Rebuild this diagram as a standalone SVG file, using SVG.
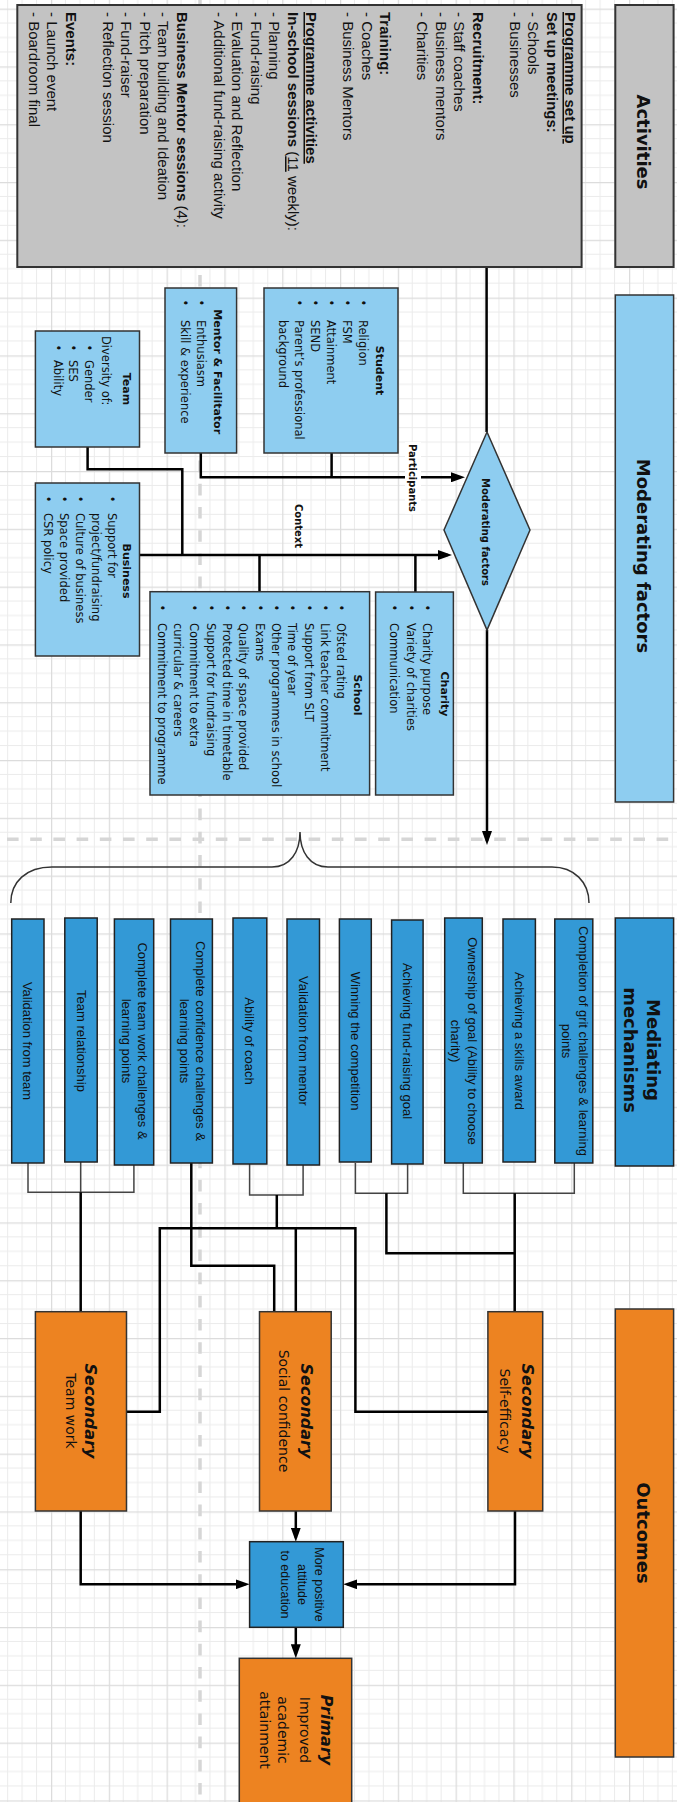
<svg xmlns="http://www.w3.org/2000/svg" width="677" height="1802" viewBox="0 0 677 1802">
<defs>
<pattern id="grid" width="57.8" height="57.8" patternUnits="userSpaceOnUse" x="-6.8" y="8.6">
<path d="M14.45 0V57.8M28.9 0V57.8M43.35 0V57.8M0 14.45H57.8M0 28.9H57.8M0 43.35H57.8" stroke="#ebebeb" stroke-width="1" fill="none"/>
<path d="M0.6 0V57.8M0 0.6H57.8" stroke="#dcdcdc" stroke-width="1.3" fill="none"/>
</pattern>
<marker id="ah" markerUnits="userSpaceOnUse" markerWidth="15" markerHeight="10" refX="10" refY="5" orient="auto"><path d="M0 0L14 5L0 10z" fill="#000"/></marker>
<style>
.act{font-family:"Liberation Sans",Arial,sans-serif;font-size:15px;fill:#111}
.b{font-weight:bold}
.u{text-decoration:underline}
.hdr{font-family:"DejaVu Sans",Verdana,sans-serif;font-weight:bold;font-size:18px;fill:#111}
.mt{font-family:"DejaVu Sans",Verdana,sans-serif;font-size:11.5px;fill:#111}
.mtb{font-family:"DejaVu Sans",Verdana,sans-serif;font-size:11px;font-weight:bold;fill:#111}
.med{font-family:"Liberation Sans",Arial,sans-serif;font-size:13px;fill:#111}
.oc{font-family:"DejaVu Sans",Verdana,sans-serif;font-size:14px;fill:#111}
.sec{font-family:"DejaVu Sans",Verdana,sans-serif;font-size:16px;font-weight:bold;font-style:italic;fill:#111}
.lbl{font-family:"DejaVu Sans",Verdana,sans-serif;font-size:10px;font-weight:bold;fill:#111}
.pos{font-family:"Liberation Sans",Arial,sans-serif;font-size:12.5px;fill:#111}
.gray{fill:#c3c3c3;stroke:#333;stroke-width:2}
.lb{fill:#8ecdf0;stroke:#333;stroke-width:1.5}
.db{fill:#3399d6;stroke:#222;stroke-width:1.5}
.or{fill:#ed8321;stroke:#333;stroke-width:1.5}
.thick{fill:none;stroke:#000;stroke-width:2.5}
.thin{fill:none;stroke:#444;stroke-width:1.5}
.dash{fill:none;stroke:#d6d6d6;stroke-width:3.5;stroke-dasharray:11.6 11.6}
.brace{fill:none;stroke:#333;stroke-width:1.5}
</style>
</defs>
<rect x="0" y="0" width="677" height="1802" fill="#fff"/>
<rect x="0" y="0" width="677" height="1802" fill="url(#grid)"/>
<path class="dash" d="M200 -3.4V1802"/>
<path class="dash" d="M7 839.3H677"/>

<!-- Headers -->
<g id="hdr-activities">
<rect class="gray" x="615.3" y="5" width="58.3" height="262"/>
<text class="hdr" text-anchor="middle" transform="translate(637,142) rotate(90)">Activities</text>
</g>
<g id="hdr-moderating">
<rect class="lb" x="615.3" y="295" width="58.3" height="507"/>
<text class="hdr" text-anchor="middle" transform="translate(637,556) rotate(90)">Moderating factors</text>
</g>
<g id="hdr-mediating">
<rect class="db" x="615.3" y="918" width="58.3" height="248"/>
<text class="hdr" text-anchor="middle" transform="translate(646.5,1050) rotate(90)">Mediating</text>
<text class="hdr" text-anchor="middle" transform="translate(623.5,1050) rotate(90)">mechanisms</text>
</g>
<g id="hdr-outcomes">
<rect class="or" x="615.3" y="1309" width="58.3" height="448"/>
<text class="hdr" text-anchor="middle" transform="translate(637,1533) rotate(90)">Outcomes</text>
</g>

<!-- Connectors -->
<g id="connectors">
<path class="thick" d="M486.6 267V432"/>
<path class="thick" d="M331.6 453V477.3M200.8 453V477.3H461" marker-end="url(#ah)"/>
<path class="thick" d="M139.5 555H448" marker-end="url(#ah)"/>
<path class="thick" d="M87.6 447V469.3H182.3V555M259.5 591.7V555M415.4 592V555"/>
<path class="thick" d="M487 630V841" marker-end="url(#ah)"/>
<path class="brace" d="M10.8 903C10.8 882 26 867 52 867H272C290 867 300 852 300 832C300 852 310 867 328 867H552C574 867 589 882 589 903"/>
<path class="thin" d="M28 1163V1192.3H133.9V1165M80.7 1162V1192.3"/>
<path class="thin" d="M249.6 1163V1195H303.1V1164"/>
<path class="thin" d="M355.4 1163V1193.3H407.6V1163"/>
<path class="thin" d="M463.3 1163V1193.3H574.3V1163"/>
<path class="thick" d="M80.7 1192.3V1311.7"/>
<path class="thick" d="M191.3 1163V1265.7H274.2V1311.7"/>
<path class="thick" d="M126.5 1411.7H159.8V1228.3H355.4V1411.7H487.9M276.8 1195V1228.3M295.8 1228.3V1311.7"/>
<path class="thick" d="M386.4 1193.3V1253.3H514.7M514.7 1193.3V1311.7"/>
<path class="thick" d="M295.8 1511V1537.7" marker-end="url(#ah)"/>
<path class="thick" d="M80.7 1511V1584.3H245.6" marker-end="url(#ah)"/>
<path class="thick" d="M515 1511V1584.3H347.3" marker-end="url(#ah)"/>
<path class="thick" d="M295.8 1627.3V1654.3" marker-end="url(#ah)"/>
<rect x="405" y="442" width="16" height="72" fill="#fff"/>
<text class="lbl" text-anchor="middle" transform="translate(408.5,478) rotate(90)">Participants</text>
<text class="lbl" text-anchor="middle" transform="translate(295,526) rotate(90)">Context</text>
</g>

<!-- Activities -->
<g id="activities">
<rect class="gray" x="17.3" y="5" width="564.3" height="262"/>
<g class="act" transform="translate(565,12) rotate(90)">
<text y="0" class="b u">Programme set up</text>
<text y="18.5" class="b">Set up meetings:</text>
<text y="37">- Schools</text>
<text y="55.5">- Businesses</text>
<text y="92.5" class="b">Recruitment:</text>
<text y="111">- Staff coaches</text>
<text y="129.5">- Business mentors</text>
<text y="148">- Charities</text>
<text y="185" class="b">Training:</text>
<text y="203.5">- Coaches</text>
<text y="222">- Business Mentors</text>
<text y="259" class="b u">Programme activities</text>
<text y="277.5"><tspan class="b">In-school sessions</tspan> (<tspan class="u">11</tspan> weekly):</text>
<text y="296">- Planning</text>
<text y="314.5">- Fund-raising</text>
<text y="333">- Evaluation and Reflection</text>
<text y="351.5">- Additional fund-raising activity</text>
<text y="388.5"><tspan class="b">Business Mentor sessions</tspan> (4):</text>
<text y="407">- Team building and Ideation</text>
<text y="425.5">- Pitch preparation</text>
<text y="444">- Fund-raiser</text>
<text y="462.5">- Reflection session</text>
<text y="499.5" class="b">Events:</text>
<text y="518">- Launch event</text>
<text y="536.5">- Boardroom final</text>
</g>
</g>

<!-- Moderating factors -->
<g id="diamond">
<polygon class="lb" points="487,432 530,530 487,630 444,530"/>
<text class="lbl" text-anchor="middle" transform="translate(482,532) rotate(90)">Moderating factors</text>
</g>
<g id="student">
<rect class="lb" x="264" y="288" width="134" height="165"/>
<g transform="translate(398,288) rotate(90)">
<text class="mtb" x="82.5" y="22" text-anchor="middle">Student</text>
<g class="mt">
<text x="11.5" y="39.5">•</text><text x="32" y="39.5">Religion</text>
<text x="11.5" y="55.5">•</text><text x="32" y="55.5">FSM</text>
<text x="11.5" y="71.5">•</text><text x="32" y="71.5">Attainment</text>
<text x="11.5" y="87.5">•</text><text x="32" y="87.5">SEND</text>
<text x="11.5" y="103.5">•</text><text x="32" y="103.5">Parent’s professional</text>
<text x="32" y="119.5">background</text>
</g></g>
</g>
<g id="mentor">
<rect class="lb" x="165" y="288" width="71.6" height="165"/>
<g transform="translate(236.6,288) rotate(90)">
<text class="mtb" x="83.7" y="22.6" text-anchor="middle">Mentor &amp; Facilitator</text>
<g class="mt">
<text x="11.5" y="39.8">•</text><text x="32" y="39.8">Enthusiasm</text>
<text x="11.5" y="55.8">•</text><text x="32" y="55.8">Skill &amp; experience</text>
</g></g>
</g>
<g id="team">
<rect class="lb" x="35.4" y="331" width="104.1" height="116"/>
<g transform="translate(139.5,331) rotate(90)">
<text class="mtb" x="58" y="16.1" text-anchor="middle">Team</text>
<g class="mt">
<text x="5" y="37.7">Diversity of:</text>
<text x="13.5" y="55">•</text><text x="29" y="55">Gender</text>
<text x="13.5" y="70.1">•</text><text x="29" y="70.1">SES</text>
<text x="13.5" y="85.2">•</text><text x="29" y="85.2">Ability</text>
</g></g>
</g>
<g id="business">
<rect class="lb" x="35.4" y="483" width="104.1" height="173"/>
<g transform="translate(139.5,483) rotate(90)">
<text class="mtb" x="88" y="16.1" text-anchor="middle">Business</text>
<g class="mt">
<text x="12.8" y="32">•</text><text x="30" y="32">Support for</text>
<text x="30" y="48">project/fundraising</text>
<text x="12.8" y="64">•</text><text x="30" y="64">Culture of business</text>
<text x="12.8" y="80">•</text><text x="30" y="80">Space provided</text>
<text x="12.8" y="96">•</text><text x="30" y="96">CSR policy</text>
</g></g>
</g>
<g id="school">
<rect class="lb" x="150" y="591.7" width="219.6" height="203.3"/>
<g transform="translate(369.6,591.7) rotate(90)">
<text class="mtb" x="103.3" y="15.2" text-anchor="middle">School</text>
<g class="mt">
<text x="12.8" y="32.5">•</text><text x="31.3" y="32.5">Ofsted rating</text>
<text x="12.8" y="48.8">•</text><text x="31.3" y="48.8">Link teacher commitment</text>
<text x="12.8" y="65.1">•</text><text x="31.3" y="65.1">Support from SLT</text>
<text x="12.8" y="81.4">•</text><text x="31.3" y="81.4">Time of year</text>
<text x="12.8" y="97.7">•</text><text x="31.3" y="97.7">Other programmes in school</text>
<text x="12.8" y="114">•</text><text x="31.3" y="114">Exams</text>
<text x="12.8" y="130.3">•</text><text x="31.3" y="130.3">Quality of space provided</text>
<text x="12.8" y="146.6">•</text><text x="31.3" y="146.6">Protected time in timetable</text>
<text x="12.8" y="162.9">•</text><text x="31.3" y="162.9">Support for fundraising</text>
<text x="12.8" y="179.2">•</text><text x="31.3" y="179.2">Commitment to extra</text>
<text x="31.3" y="195.5">curricular &amp; careers</text>
<text x="12.8" y="211.8">•</text><text x="31.3" y="211.8">Commitment to programme</text>
</g></g>
</g>
<g id="charity">
<rect class="lb" x="375.6" y="592" width="77.8" height="203"/>
<g transform="translate(453.4,592) rotate(90)">
<text class="mtb" x="102" y="12.7" text-anchor="middle">Charity</text>
<g class="mt">
<text x="12.5" y="30">•</text><text x="31" y="30">Charity purpose</text>
<text x="12.5" y="46.5">•</text><text x="31" y="46.5">Variety of charities</text>
<text x="12.5" y="63">•</text><text x="31" y="63">Communication</text>
</g></g>
</g>

<!-- Mediating mechanisms -->
<g id="m1"><rect class="db" x="11.7" y="919" width="32.3" height="244"/>
<text class="med" text-anchor="middle" transform="translate(23.4,1041) rotate(90)">Validation from team</text></g>
<g id="m2"><rect class="db" x="64.8" y="918" width="32.4" height="244"/>
<text class="med" text-anchor="middle" transform="translate(76.5,1041) rotate(90)">Team relationship</text></g>
<g id="m3"><rect class="db" x="114.4" y="919" width="39.3" height="246"/>
<text class="med" text-anchor="middle" transform="translate(138,1041) rotate(90)">Complete team work challenges &amp;</text>
<text class="med" text-anchor="middle" transform="translate(121.5,1041) rotate(90)">learning points</text></g>
<g id="m4"><rect class="db" x="170.5" y="919" width="41.9" height="244"/>
<text class="med" text-anchor="middle" transform="translate(196.3,1041) rotate(90)">Complete confidence challenges &amp;</text>
<text class="med" text-anchor="middle" transform="translate(180.3,1041) rotate(90)">learning points</text></g>
<g id="m5"><rect class="db" x="233" y="918" width="33.8" height="246"/>
<text class="med" text-anchor="middle" transform="translate(245.4,1041) rotate(90)">Ability of coach</text></g>
<g id="m6"><rect class="db" x="287" y="919" width="32.5" height="246"/>
<text class="med" text-anchor="middle" transform="translate(298.8,1041) rotate(90)">Validation from mentor</text></g>
<g id="m7"><rect class="db" x="339.4" y="919" width="31.9" height="243"/>
<text class="med" text-anchor="middle" transform="translate(350.9,1041) rotate(90)">Winning the competition</text></g>
<g id="m8"><rect class="db" x="391.6" y="920" width="31.5" height="244"/>
<text class="med" text-anchor="middle" transform="translate(402.9,1041) rotate(90)">Achieving fund-raising goal</text></g>
<g id="m9"><rect class="db" x="444.7" y="918" width="37.6" height="245"/>
<text class="med" text-anchor="middle" transform="translate(467.5,1041) rotate(90)">Ownership of goal (Ability to choose</text>
<text class="med" text-anchor="middle" transform="translate(451,1041) rotate(90)">charity)</text></g>
<g id="m10"><rect class="db" x="503" y="919" width="32.4" height="243"/>
<text class="med" text-anchor="middle" transform="translate(514.7,1041) rotate(90)">Achieving a skills award</text></g>
<g id="m11"><rect class="db" x="554.8" y="919" width="38" height="244"/>
<text class="med" text-anchor="middle" transform="translate(578.5,1041) rotate(90)">Completion of grit challenges &amp; learning</text>
<text class="med" text-anchor="middle" transform="translate(562,1041) rotate(90)">points</text></g>

<!-- Outcomes -->
<g id="teamwork"><rect class="or" x="35.4" y="1311.7" width="91.1" height="199.3"/>
<text class="sec" text-anchor="middle" transform="translate(85,1411) rotate(90)">Secondary</text>
<text class="oc" text-anchor="middle" transform="translate(66,1411) rotate(90)">Team work</text></g>
<g id="socialconf"><rect class="or" x="259.5" y="1311.7" width="71.7" height="199.3"/>
<text class="sec" text-anchor="middle" transform="translate(301,1411) rotate(90)">Secondary</text>
<text class="oc" text-anchor="middle" transform="translate(279,1411) rotate(90)">Social confidence</text></g>
<g id="selfeff"><rect class="or" x="487.9" y="1311.7" width="54.8" height="199.3"/>
<text class="sec" text-anchor="middle" transform="translate(522,1411) rotate(90)">Secondary</text>
<text class="oc" text-anchor="middle" transform="translate(500,1411) rotate(90)">Self-efficacy</text></g>
<g id="attitude"><rect class="db" x="249.6" y="1541.7" width="93.7" height="85.6"/>
<text class="pos" text-anchor="middle" transform="translate(315,1584.5) rotate(90)">More positive</text>
<text class="pos" text-anchor="middle" transform="translate(297.7,1584.5) rotate(90)">attitude</text>
<text class="pos" text-anchor="middle" transform="translate(280.5,1584.5) rotate(90)">to education</text></g>
<g id="primary"><rect class="or" x="239.3" y="1658.3" width="112.4" height="152"/>
<text class="sec" text-anchor="middle" transform="translate(320.5,1730) rotate(90)">Primary</text>
<text class="oc" text-anchor="middle" transform="translate(299.5,1730) rotate(90)">Improved</text>
<text class="oc" text-anchor="middle" transform="translate(278,1730) rotate(90)">academic</text>
<text class="oc" text-anchor="middle" transform="translate(259.5,1730) rotate(90)">attainment</text></g>
</svg>
